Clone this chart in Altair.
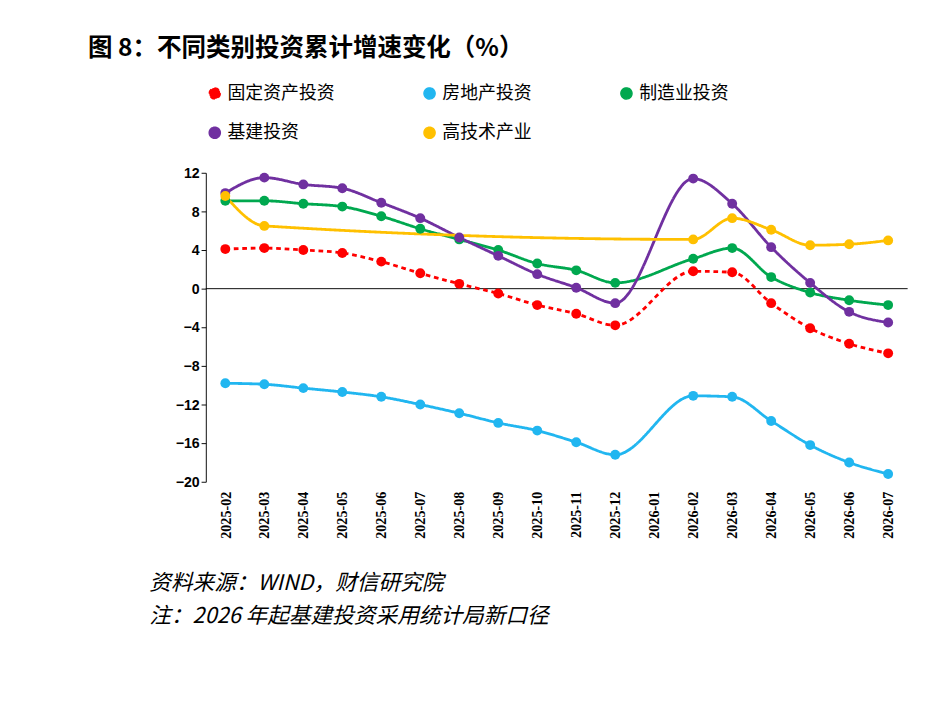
import altair as alt
import pandas as pd

months = ["2025-02", "2025-03", "2025-04", "2025-05", "2025-06", "2025-07", "2025-08",
          "2025-09", "2025-10", "2025-11", "2025-12", "2026-01", "2026-02", "2026-03",
          "2026-04", "2026-05", "2026-06", "2026-07"]
N = None
fixed = [4.1, 4.2, 4.0, 3.7, 2.8, 1.6, 0.5, -0.5, -1.7, -2.6, -3.8, N, 1.8, 1.7, -1.5, -4.1, -5.7, -6.7]
estate = [-9.8, -9.9, -10.3, -10.7, -11.2, -12.0, -12.9, -13.9, -14.7, -15.9, -17.2, N, -11.1, -11.2, -13.7, -16.2, -18.0, -19.2]
manuf = [9.1, 9.1, 8.8, 8.5, 7.5, 6.2, 5.1, 4.0, 2.6, 1.9, 0.6, N, 3.1, 4.2, 1.2, -0.4, -1.2, -1.7]
infra = [9.9, 11.5, 10.8, 10.4, 8.9, 7.3, 5.3, 3.4, 1.5, 0.1, -1.5, N, 11.4, 8.8, 4.3, 0.6, -2.4, -3.5]
hitech = [9.6, 6.5, N, N, N, N, N, N, N, N, N, N, 5.1, 7.3, 6.1, 4.5, 4.6, 5.0]

names = ["固定资产投资", "房地产投资", "制造业投资", "基建投资", "高技术产业"]
colors = ["#FF0000", "#21B6F0", "#00A84F", "#7030A0", "#FFC000"]
series = [fixed, estate, manuf, infra, hitech]

rows = []
for name, vals in zip(names, series):
    for m, v in zip(months, vals):
        if v is not None:
            rows.append({"month": m, "series": name, "value": v})
df = pd.DataFrame(rows)

FONT = "Noto Sans CJK SC"
x = alt.X("month:O", scale=alt.Scale(domain=months, paddingOuter=0.3),
          axis=alt.Axis(title=None, labelAngle=-90, labelFontSize=15, labelFont="Times New Roman",
                        labelFontWeight="bold", domain=False, ticks=False, labelPadding=10))
y = alt.Y("value:Q", scale=alt.Scale(domain=[-20, 12], nice=False),
          axis=alt.Axis(title=None, values=list(range(-20, 13, 4)), grid=False, labelFontSize=15,
                        labelFontWeight="bold", domainColor="black", tickColor="black"))
color = alt.Color("series:N", scale=alt.Scale(domain=names, range=colors),
                  legend=alt.Legend(title=None, orient="top", columns=3, labelFontSize=19,
                                    labelFont=FONT, symbolSize=140, columnPadding=90,
                                    rowPadding=22, offset=25, padding=0,
                                    symbolType="circle", labelLimit=250))
dash = alt.StrokeDash("series:N", scale=alt.Scale(domain=names, range=[[5, 4], [1, 0], [1, 0], [1, 0], [1, 0]]),
                      legend=None)

lines = alt.Chart(df).mark_line(interpolate="monotone", strokeWidth=3).encode(x=x, y=y, color=color, strokeDash=dash)
pts = alt.Chart(df).mark_circle(size=110, opacity=1).encode(x=x, y=y, color=color)
zero = alt.Chart(pd.DataFrame({"z": [0]})).mark_rule(color="black").encode(y="z:Q")

main = alt.layer(zero, lines, pts).properties(width=745, height=328)

footer = alt.Chart(pd.DataFrame({"t": ["资料来源：WIND，财信研究院", "注：2026 年起基建投资采用统计局新口径"],
                                 "i": [0, 1]})).mark_text(
    align="left", fontSize=23, font=FONT, fontStyle="italic").encode(
    x=alt.value(-60), y=alt.Y("i:O", axis=None), text="t:N").properties(width=745, height=70)

chart = alt.vconcat(main, footer, spacing=30).properties(
    padding={"left": 85, "top": 10, "right": 10, "bottom": 5},
    title=alt.TitleParams("图 8：不同类别投资累计增速变化（%）", fontSize=26, font=FONT,
                          anchor="start", fontWeight="bold", dx=-65, offset=25)
).configure_view(stroke=None).configure_axis(labelColor="black")

chart.save("out.html", embed_options={"renderer": "svg", "actions": False})
